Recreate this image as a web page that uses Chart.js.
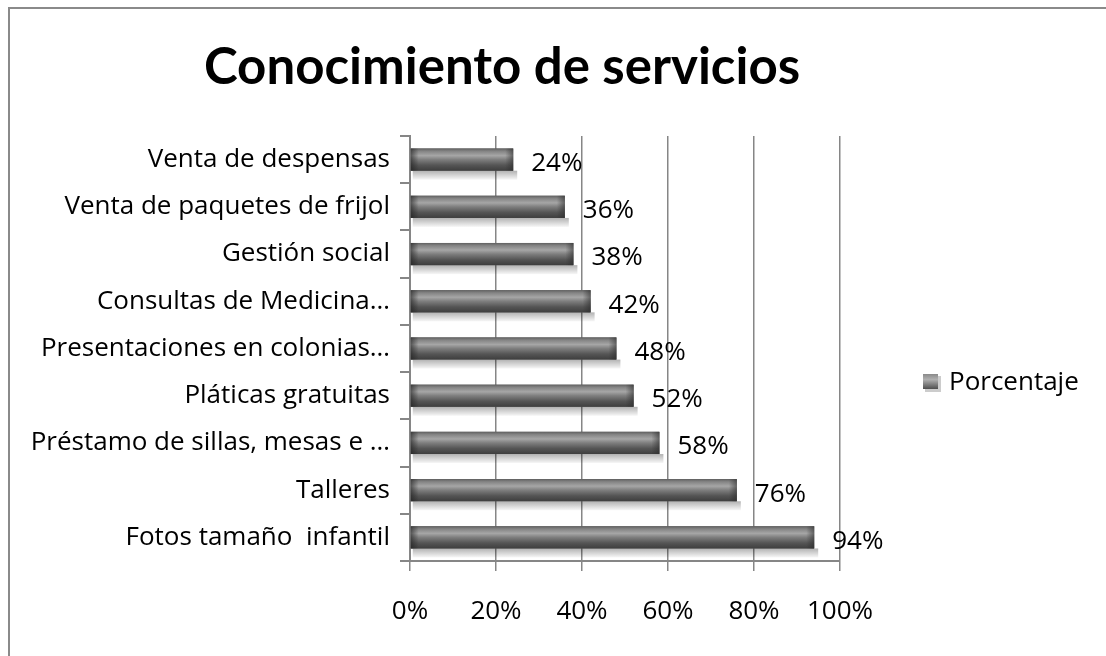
<!DOCTYPE html>
<html><head><meta charset="utf-8">
<script src="https://cdn.jsdelivr.net/npm/chart.js@4.4.0/dist/chart.umd.min.js"></script>
<style>html,body{margin:0;padding:0;background:#fff}#wrap{width:1106px;height:656px;position:relative}canvas{display:block}</style>
</head><body><div id="wrap"><canvas id="c" width="1106" height="656"></canvas></div>
<script>
const chartTitle = "Conocimiento de servicios";
const seriesName = "Porcentaje";
const categories = ["Venta de despensas", "Venta de paquetes de frijol", "Gestión social", "Consultas de Medicina…", "Presentaciones en colonias…", "Pláticas gratuitas", "Préstamo de sillas, mesas e …", "Talleres", "Fotos tamaño  infantil"];
const porcentaje = [24, 36, 38, 42, 48, 52, 58, 76, 94];
const xTickValues = [0, 20, 40, 60, 80, 100];

const FONT = "'Open Sans'";
const TITLE_FONT = "Lato";
const GRID = "#868686";

const borderPlugin = {
  id: 'outerBorder',
  beforeDraw(chart) {
    const ctx = chart.ctx;
    ctx.save();
    ctx.fillStyle = '#fff';
    ctx.fillRect(0, 0, chart.width, chart.height);
    ctx.strokeStyle = '#8a8a8a';
    ctx.lineWidth = 2;
    ctx.strokeRect(9, 8, chart.width + 20, chart.height + 20);
    ctx.restore();
  }
};

const titlePlugin = {
  id: 'customTitle',
  afterDraw(chart) {
    const ctx = chart.ctx;
    ctx.save();
    ctx.font = "bold 51px " + TITLE_FONT;
    ctx.fillStyle = '#000';
    ctx.textAlign = 'center';
    ctx.textBaseline = 'middle';
    ctx.fillText(chartTitle, 502, 68);
    ctx.restore();
  }
};

function barGeom(el) {
  return el.getProps(['x', 'y', 'base', 'height'], true);
}

const barStylePlugin = {
  id: 'barStyle',
  beforeDatasetsDraw(chart) {
    const ctx = chart.ctx;
    const meta = chart.getDatasetMeta(0);
    ctx.save();
    meta.data.forEach(el => {
      const p = barGeom(el);
      const top = p.y + p.height / 2;
      const g = ctx.createLinearGradient(0, top, 0, top + 9);
      g.addColorStop(0, 'rgba(0,0,0,0.30)');
      g.addColorStop(1, 'rgba(0,0,0,0.03)');
      ctx.fillStyle = g;
      ctx.fillRect(p.base + 2, top, p.x - p.base + 2, 9);
    });
    ctx.restore();
  },
  afterDatasetsDraw(chart) {
    const ctx = chart.ctx;
    const meta = chart.getDatasetMeta(0);
    ctx.save();
    meta.data.forEach((el, i) => {
      const p = barGeom(el);
      const t = p.y - p.height / 2, h = p.height;
      const g = ctx.createLinearGradient(0, t, 0, t + h);
      g.addColorStop(0, '#606060');
      g.addColorStop(0.12, '#848484');
      g.addColorStop(0.32, '#a6a6a6');
      g.addColorStop(0.5, '#7e7e7e');
      g.addColorStop(0.75, '#555555');
      g.addColorStop(1, '#3e3e3e');
      ctx.fillStyle = g;
      ctx.fillRect(p.base, t, p.x - p.base, h);
      const ge = ctx.createLinearGradient(p.x - 8, 0, p.x, 0);
      ge.addColorStop(0, 'rgba(40,40,40,0)');
      ge.addColorStop(1, 'rgba(40,40,40,0.55)');
      ctx.fillStyle = ge;
      ctx.fillRect(p.x - 8, t, 8, h);
      const gs = ctx.createLinearGradient(p.base, 0, p.base + 8, 0);
      gs.addColorStop(0, 'rgba(30,30,30,0.6)');
      gs.addColorStop(1, 'rgba(30,30,30,0)');
      ctx.fillStyle = gs;
      ctx.fillRect(p.base, t, 8, h);
      ctx.fillStyle = '#000';
      ctx.font = "26px " + FONT;
      ctx.textAlign = 'left';
      ctx.textBaseline = 'middle';
      ctx.fillText(chart.data.datasets[0].data[i] + '%', p.x + 18, p.y + 4);
    });
    ctx.restore();
  }
};

const legendPlugin = {
  id: 'customLegend',
  afterDraw(chart) {
    const ctx = chart.ctx;
    ctx.save();
    const g = ctx.createLinearGradient(0, 374, 0, 390);
    g.addColorStop(0, '#8a8a8a');
    g.addColorStop(0.35, '#b0b0b0');
    g.addColorStop(1, '#444');
    ctx.fillStyle = 'rgba(0,0,0,0.2)';
    ctx.fillRect(925, 376, 16, 16);
    ctx.fillStyle = g;
    ctx.fillRect(923, 374, 15, 15);
    ctx.fillStyle = '#000';
    ctx.font = "26px " + FONT;
    ctx.textAlign = 'left';
    ctx.textBaseline = 'middle';
    ctx.fillText(chart.data.datasets[0].label, 949, 383);
    ctx.restore();
  }
};

const ctx = document.getElementById('c').getContext('2d');
new Chart(ctx, {
  type: 'bar',
  data: {
    labels: categories,
    datasets: [{
      label: seriesName,
      data: porcentaje,
      backgroundColor: '#5a5a5a',
      borderWidth: 0,
      categoryPercentage: 1,
      barPercentage: 0.47
    }]
  },
  options: {
    indexAxis: 'y',
    responsive: false,
    animation: false,
    devicePixelRatio: 1,
    layout: { padding: { left: 10, right: 266, top: 136, bottom: 10 } },
    plugins: {
      legend: { display: false },
      title: { display: false },
      tooltip: { enabled: false }
    },
    scales: {
      x: {
        min: 0, max: 100,
        afterBuildTicks(scale) { scale.ticks = xTickValues.map(v => ({ value: v })); },
        afterFit(scale) { scale.height = 85; },
        ticks: {
          callback: v => v + '%',
          color: '#000',
          font: { family: "Open Sans", size: 26 },
          padding: 25,
          maxRotation: 0
        },
        grid: { color: GRID, lineWidth: 1.5, tickLength: 10, drawTicks: true },
        border: { color: GRID, width: 2 }
      },
      y: {
        afterFit(scale) { scale.width = 400; },
        ticks: {
          color: '#000',
          font: { family: "Open Sans", size: 26 },
          padding: 10,
          autoSkip: false
        },
        grid: { offset: true, drawOnChartArea: false, color: GRID, lineWidth: 2, tickLength: 10 },
        border: { color: GRID, width: 2 }
      }
    }
  },
  plugins: [borderPlugin, titlePlugin, barStylePlugin, legendPlugin]
});
</script>
</body></html>
